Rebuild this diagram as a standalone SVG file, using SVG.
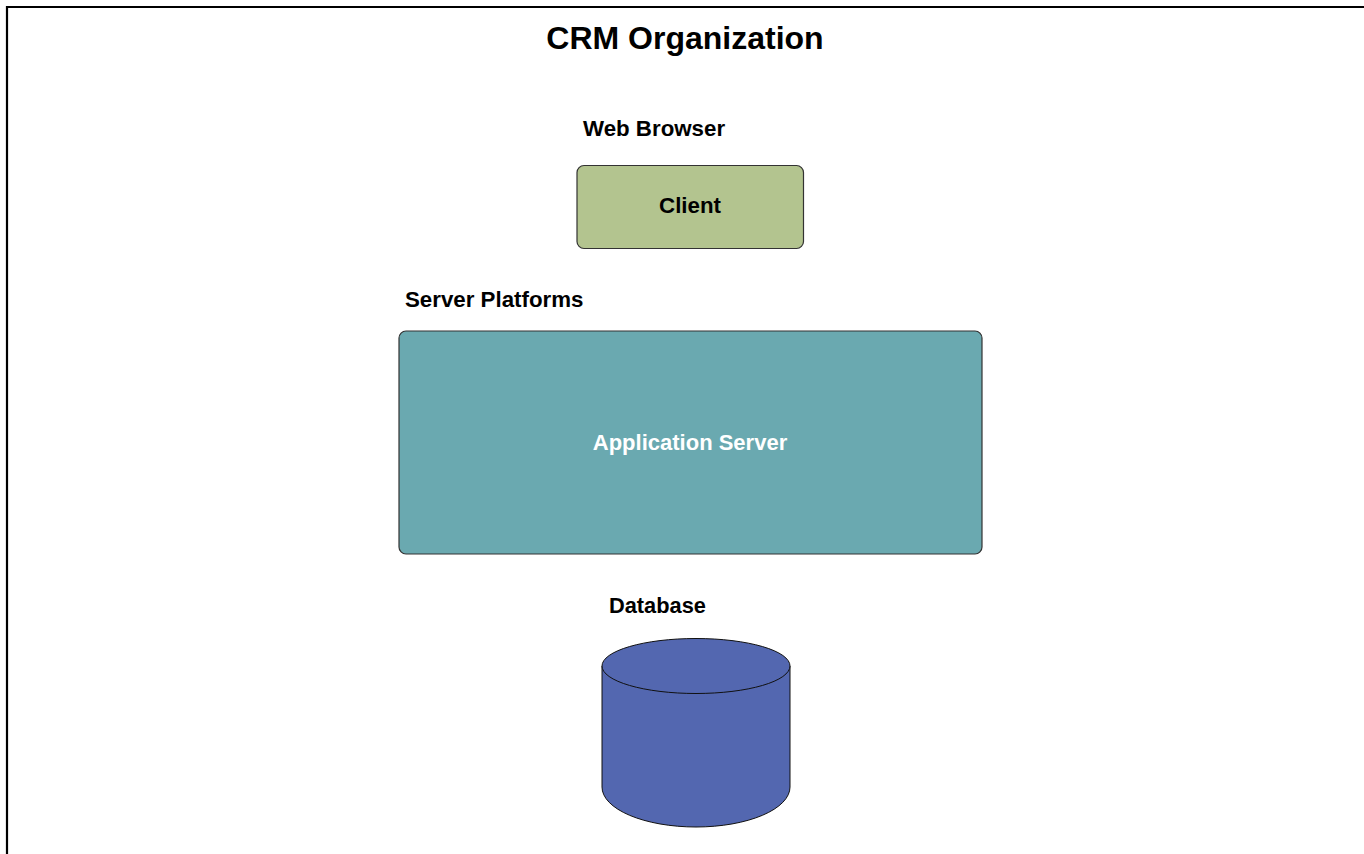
<svg xmlns="http://www.w3.org/2000/svg" width="1364" height="854" viewBox="0 0 1364 854">
  <style>
    .lbl { font-family: "Liberation Sans", Arial, sans-serif; font-weight: bold; fill: #000; }
    .box { stroke: #333; stroke-width: 1.2; }
    .db  { fill: #5367B0; stroke: #111; stroke-width: 1; }
  </style>
  <rect width="1364" height="854" fill="#fff"/>
  <!-- page frame (top and left edges) -->
  <path d="M7 854 V7 H1364" fill="none" stroke="#000" stroke-width="2.2"/>

  <text class="lbl" x="685" y="49" font-size="32" text-anchor="middle">CRM Organization</text>

  <g id="client">
    <text class="lbl" x="583" y="136" font-size="22.3">Web Browser</text>
    <rect class="box" x="577" y="165.5" width="226.5" height="83" rx="7" fill="#B3C48F"/>
    <text class="lbl" x="690" y="213" font-size="22.3" text-anchor="middle">Client</text>
  </g>

  <g id="app-server">
    <text class="lbl" x="405" y="307" font-size="22.3">Server Platforms</text>
    <rect class="box" x="399" y="331" width="583" height="223" rx="7" fill="#6AA9B0"/>
    <text class="lbl" x="690" y="450" font-size="22" text-anchor="middle" style="fill:#fff">Application Server</text>
  </g>

  <g id="database">
    <text class="lbl" x="609" y="613" font-size="21.8">Database</text>
    <path class="db" d="M602 666 V787 A94 40 0 0 0 790 787 V666 Z"/>
    <ellipse class="db" cx="696" cy="666" rx="94" ry="27.5"/>
  </g>

  <g id="connectors"></g>
</svg>
